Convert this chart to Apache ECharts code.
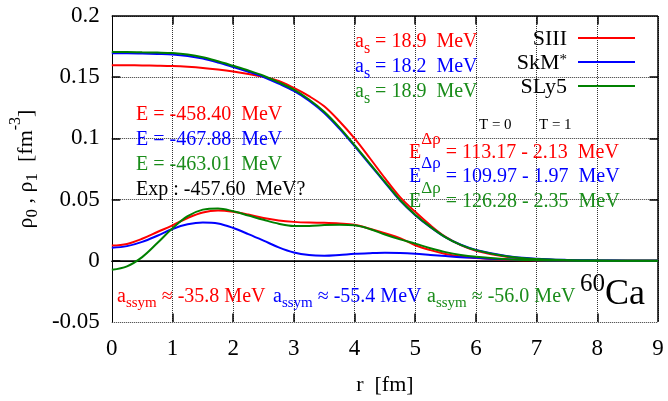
<!DOCTYPE html>
<html>
<head>
<meta charset="utf-8">
<script src="https://cdn.jsdelivr.net/npm/echarts@6/dist/echarts.min.js"></script>
<style>
html,body{margin:0;padding:0;background:#fff;}
#chart{width:668px;height:401px;}
</style>
</head>
<body>
<div id="chart"></div>
<script>
// radius grid (fm)
const r = [0,0.25,0.5,0.75,1,1.25,1.5,1.75,2,2.25,2.5,2.75,3,3.25,3.5,3.75,4,4.25,4.5,4.75,5,5.25,5.5,5.75,6,6.5,7,7.5,8,8.5,9];
// isoscalar densities rho0
const rho0_SIII = [0.1597,0.1597,0.1596,0.1594,0.1591,0.1585,0.1576,0.1563,0.1547,0.1527,0.1503,0.1470,0.1412,0.1345,0.1262,0.1140,0.1000,0.0840,0.0675,0.0520,0.0400,0.0290,0.0195,0.0128,0.0082,0.0032,0.0012,0.0004,0.0001,0,0];
const rho0_SkM  = [0.1695,0.1695,0.1693,0.1690,0.1686,0.1674,0.1652,0.1620,0.1583,0.1545,0.1502,0.1448,0.1388,0.1308,0.1208,0.1080,0.0937,0.0788,0.0639,0.0492,0.0373,0.0275,0.0191,0.0131,0.0089,0.0040,0.0017,0.0007,0.0003,0.0001,0];
const rho0_SLy5 = [0.1705,0.1705,0.1703,0.1701,0.1697,0.1685,0.1663,0.1630,0.1593,0.1555,0.1512,0.1458,0.1398,0.1318,0.1218,0.1090,0.0945,0.0795,0.0645,0.0497,0.0377,0.0277,0.0192,0.0130,0.0087,0.0037,0.0014,0.0005,0.0002,0.0001,0];
// isovector densities rho1
const rho1_SIII = [0.0124,0.0138,0.0180,0.0235,0.0290,0.0350,0.0395,0.0410,0.0400,0.0378,0.0350,0.0330,0.0318,0.0312,0.0310,0.0305,0.0295,0.0262,0.0225,0.0185,0.0127,0.0087,0.0056,0.0036,0.0022,0.0008,0.0003,0.0001,0,0,0];
const rho1_SkM  = [0.0106,0.0120,0.0155,0.0205,0.0260,0.0298,0.0313,0.0305,0.0268,0.0218,0.0165,0.0110,0.0068,0.0047,0.0042,0.0048,0.0057,0.0062,0.0065,0.0063,0.0057,0.0048,0.0039,0.0030,0.0024,0.0012,0.0005,0.0002,0.0001,0,0];
const rho1_SLy5 = [-0.0073,-0.0045,0.0030,0.0145,0.0266,0.0365,0.0418,0.0428,0.0405,0.0370,0.0335,0.0303,0.0285,0.0285,0.0292,0.0295,0.0290,0.0260,0.0215,0.0175,0.0140,0.0103,0.0071,0.0048,0.0033,0.0013,0.0005,0.0002,0.0001,0,0];

const forces = ['SIII','SkM*','SLy5'];
const lineColors = ['#ff0000','#0000ff','#008000'];
const textColors = ['#ff0000','#0000ff','#1a8c1a'];
const xTicks = {min:0, max:9, interval:1};
const yTicks = {min:-0.05, max:0.2, interval:0.05};
const xInner = [1,2,3,4,5,6,7,8];          // interior x tick values
const yInner = [0,0.05,0.1,0.15];          // interior y tick values

const energies = ['-458.40','-467.88','-463.01'];
const expEnergy = '-457.60';
const surfCoef = ['18.9','18.2','18.9'];
const eDeltaT0 = ['113.17','109.97','126.28'];
const eDeltaT1 = ['2.13','1.97','2.35'];
const asym = ['-35.8','-55.4','-56.0'];

const FF = '"Liberation Serif","DejaVu Serif","Times New Roman",serif';

function rich(color){
  return {
    m:{fontSize:20,fontFamily:FF,color:color,padding:[14,0,0,0],verticalAlign:'top'},
    b:{fontSize:16,fontFamily:FF,color:color,padding:[23,0,0,0],verticalAlign:'top'},
    c:{fontSize:15,fontFamily:FF,color:color,padding:[23,0,0,0],verticalAlign:'top'},
    p:{fontSize:17,fontFamily:FF,color:color,padding:[2,0,0,0],verticalAlign:'top'},
    t:{fontSize:15,fontFamily:FF,color:color,padding:[14,0,0,0],verticalAlign:'top'}
  };
}
function txt(x, cy, text, color){
  return {type:'text', x:x, y:cy-24, z:100, silent:true,
    style:{text:text, rich:rich(color), align:'left', verticalAlign:'top', fill:color, font:'20px '+FF}};
}

const graphics = [];
const aPos = [42,67,92];
const ePos = [115,140,165];
const dPos = [153,177,202];
const sPos = [117,273,427];
for (let i=0;i<3;i++){
  graphics.push(txt(355, aPos[i], '{m|a}{b|s}{m| = '+surfCoef[i]+'  MeV}', textColors[i]));
  graphics.push(txt(136, ePos[i], '{m|E = '+energies[i]+'  MeV}', textColors[i]));
  graphics.push(txt(409, dPos[i], '{m|E}{p|Δρ}{m| = '+eDeltaT0[i]+' - '+eDeltaT1[i]+'  MeV}', textColors[i]));
  graphics.push(txt(sPos[i], 297, '{m|a}{c|ssym}{m| ≈ '+asym[i]+' MeV}', textColors[i]));
}
graphics.push(txt(136, 190, '{m|Exp : '+expEnergy+'  MeV?}', '#000'));
graphics.push(txt(479, 128, '{t|T = 0}', '#000'));
graphics.push(txt(539, 128, '{t|T = 1}', '#000'));
graphics.push({type:'text', x:580, y:272, z:100, silent:true,
  style:{text:'{n|60}{e|Ca}', align:'left', verticalAlign:'top',
    rich:{n:{fontSize:25,fontFamily:FF,color:'#000',padding:[0,0,0,0],verticalAlign:'top'},
          e:{fontSize:36,fontFamily:FF,color:'#000',padding:[5,0,0,0],verticalAlign:'top'}}}});

function mk(arr){ return r.map((x,i)=>[x, arr[i]]); }
function ser(name, arr, color){
  return {name:name, type:'line', data:mk(arr), symbol:'none', showSymbol:false, smooth:0.35,
    lineStyle:{color:color, width:2}, itemStyle:{color:color}, z:5};
}

// inward ticks and frame, placed through the axes' own scales
const xTickLen = 0.14, yTickLen = 0.007;
const tickData = [];
xInner.forEach(v=>{
  tickData.push([{coord:[v, yTicks.min]},{coord:[v, yTicks.min+yTickLen]}]);
  tickData.push([{coord:[v, yTicks.max]},{coord:[v, yTicks.max-yTickLen]}]);
});
yInner.forEach(v=>{
  tickData.push([{coord:[xTicks.min, v]},{coord:[xTicks.min+xTickLen, v]}]);
  tickData.push([{coord:[xTicks.max, v]},{coord:[xTicks.max-xTickLen, v]}]);
});
const frameData = [
  [{coord:[xTicks.min, yTicks.max]},{coord:[xTicks.max, yTicks.max]}],
  [{coord:[xTicks.max, yTicks.min]},{coord:[xTicks.max, yTicks.max]}],
  {yAxis:0}
];

const series = [
  {type:'line', data:mk(rho0_SIII), symbol:'none', showSymbol:false, silent:true, z:2,
    lineStyle:{opacity:0, width:0}, itemStyle:{opacity:0},
    markLine:{silent:true, symbol:'none', label:{show:false}, animation:false,
      lineStyle:{color:'#000', type:'solid', width:1.5}, data:tickData.concat(frameData)}},
  ser(forces[0], rho0_SIII, lineColors[0]),
  ser(forces[0], rho1_SIII, lineColors[0]),
  ser(forces[1], rho0_SkM, lineColors[1]),
  ser(forces[1], rho1_SkM, lineColors[1]),
  ser(forces[2], rho0_SLy5, lineColors[2]),
  ser(forces[2], rho1_SLy5, lineColors[2])
];

const option = {
  animation:false,
  grid:{left:111, right:10, top:16, bottom:77},
  legend:{
    data:forces, orient:'vertical', right:33, top:28, align:'right', padding:0,
    itemWidth:57, itemHeight:2, itemGap:2, icon:'rect', selectedMode:false,
    formatter:function(n){ return n==='SkM*' ? '{u|SkM}{s|*}' : '{t|'+n+'}'; },
    textStyle:{fontFamily:FF, fontSize:22, color:'#000',
      rich:{t:{fontSize:22,fontFamily:FF,color:'#000',padding:[2,6,0,0],verticalAlign:'top'},
            u:{fontSize:22,fontFamily:FF,color:'#000',padding:[2,0,0,0],verticalAlign:'top'},
            s:{fontSize:15,fontFamily:FF,color:'#000',padding:[3,6,0,0],verticalAlign:'top'}}}
  },
  xAxis:{type:'value', min:xTicks.min, max:xTicks.max, interval:xTicks.interval,
     axisLine:{show:true, lineStyle:{color:'#000'}},
     axisTick:{show:false},
     splitLine:{show:true, lineStyle:{color:'#333', type:'dotted'}},
     axisLabel:{fontSize:23, fontFamily:FF, color:'#000', margin:15},
     name:'r  [fm]', nameLocation:'middle', nameGap:52,
     nameTextStyle:{fontSize:22, fontFamily:FF, color:'#000'}},
  yAxis:{type:'value', min:yTicks.min, max:yTicks.max, interval:yTicks.interval,
     axisLine:{show:true, lineStyle:{color:'#000'}},
     axisTick:{show:false},
     splitLine:{show:true, lineStyle:{color:'#333', type:'dotted'}},
     axisLabel:{fontSize:23, fontFamily:FF, color:'#000', margin:12},
     name:'{m|ρ}{b|0}{m| , ρ}{b|1}{m|  [fm}{p|-3}{m|]}', nameLocation:'middle', nameGap:62,
     nameTextStyle:{fontSize:22, fontFamily:FF, color:'#000',
       rich:{m:{fontSize:22,fontFamily:FF,color:'#000',padding:[7,0,0,0],verticalAlign:'top'},
             b:{fontSize:17,fontFamily:FF,color:'#000',padding:[16,0,0,0],verticalAlign:'top'},
             p:{fontSize:16,fontFamily:FF,color:'#000',padding:[0,0,0,0],verticalAlign:'top'}}}},
  series:series,
  graphic:graphics
};
const chart = echarts.init(document.getElementById('chart'));
chart.setOption(option);
</script>
</body>
</html>
